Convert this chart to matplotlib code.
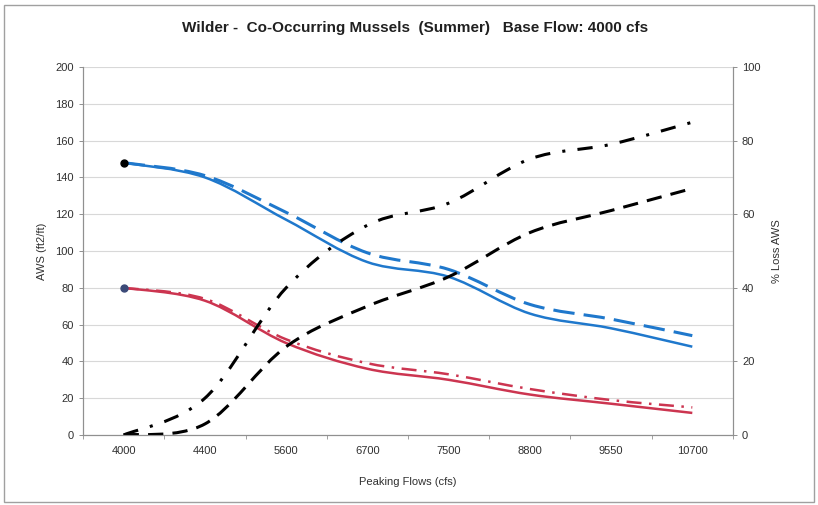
import numpy as np
import matplotlib.pyplot as plt
from matplotlib.path import Path
from matplotlib.patches import PathPatch, Rectangle

plt.rcParams['font.family'] = ['Liberation Sans Narrow', 'Liberation Sans', 'DejaVu Sans']

flows = ['4000', '4400', '5600', '6700', '7500', '8800', '9550', '10700']

# AWS (left axis)
aws_blue_solid = [148, 140, 117, 94, 86, 66, 58, 48]
aws_blue_dash = [148, 141, 121, 99, 90, 71, 63, 54]
aws_red_solid = [80, 73, 50, 36, 30, 22, 17, 12]
aws_red_dashdot = [80, 74, 52, 39, 33, 25, 19, 15]

# % loss AWS (right axis)
loss_dashdot = [0, 10, 40, 57, 63, 75, 79, 85]
loss_dash = [0, 3, 24, 35, 43, 55, 61, 67]


def smooth_line(ax, xs, ys, **kw):
    # excel-style smoothed line: catmull-rom turned into bezier segments
    pts = np.column_stack([xs, ys]).astype(float)
    n = len(pts)
    verts = [pts[0]]
    codes = [Path.MOVETO]
    for i in range(n - 1):
        p0 = pts[i - 1] if i > 0 else pts[i]
        p1 = pts[i]
        p2 = pts[i + 1]
        p3 = pts[i + 2] if i + 2 < n else pts[i + 1]
        c1 = p1 + (p2 - p0) / 6.0
        c2 = p2 - (p3 - p1) / 6.0
        verts += [c1, c2, p2]
        codes += [Path.CURVE4] * 3
    patch = PathPatch(Path(verts, codes), fill=False, **kw)
    ax.add_patch(patch)
    return patch


fig = plt.figure(figsize=(8.18, 5.05), dpi=100)
ax = fig.add_axes([0.1015, 0.1386, 0.7945, 0.7287])
ax2 = ax.twinx()

x = np.arange(len(flows))

blue = '#1f78cc'
red = '#cc3550'

smooth_line(ax, x, aws_blue_dash, edgecolor=blue, lw=2.2, linestyle=(0, (7, 3)))
smooth_line(ax, x, aws_blue_solid, edgecolor=blue, lw=1.8)
smooth_line(ax, x, aws_red_dashdot, edgecolor=red, lw=1.8, linestyle=(0, (6, 3, 1, 3)))
smooth_line(ax, x, aws_red_solid, edgecolor=red, lw=1.8)
ax.plot(x[:1], aws_blue_solid[:1], 'o', color='black', ms=5, zorder=5)
ax.plot(x[:1], aws_red_solid[:1], 'o', color='#3b4a78', ms=5, zorder=5)

smooth_line(ax2, x, loss_dashdot, edgecolor='black', lw=2.2, linestyle=(0, (5, 4, 1, 4)))
smooth_line(ax2, x, loss_dash, edgecolor='black', lw=2.2, linestyle=(0, (5, 3)))

ax.set_xlim(-0.5, len(flows) - 0.5)
ax.set_ylim(0, 200)
ax2.set_ylim(0, 100)
ax.set_yticks(np.arange(0, 201, 20))
ax2.set_yticks(np.arange(0, 101, 20))
ax.set_xticks(x)
ax.set_xticklabels(flows)
ax.set_xticks(np.arange(-0.5, len(flows), 1), minor=True)

ax.grid(axis='y', color='#d8d8d8', lw=0.8)
ax.set_axisbelow(True)

for a in (ax, ax2):
    for s in a.spines.values():
        s.set_color('#909090')
        s.set_linewidth(0.8)
    a.spines['top'].set_visible(False)
    a.tick_params(labelsize=8, colors='#303030', length=3, width=0.7)
    a.tick_params(axis='both', color='#909090')
ax.tick_params(axis='x', which='major', length=0, pad=8)
ax.tick_params(axis='x', which='minor', length=3, color='#909090')

ax.set_ylabel('AWS (ft2/ft)', fontsize=8, color='#303030', labelpad=6)
ax2.set_ylabel('% Loss AWS', fontsize=8, color='#303030', labelpad=8)
ax.set_xlabel('Peaking Flows (cfs)', fontsize=8, color='#303030', labelpad=15)

fig.text(0.508, 0.944, 'Wilder -  Co-Occurring Mussels  (Summer)   Base Flow: 4000 cfs',
         ha='center', va='center', fontsize=11, fontweight='bold', color='#202020')

fig.patches.append(Rectangle((0.005, 0.005), 0.99, 0.985, transform=fig.transFigure,
                             fill=False, edgecolor='#a0a0a0', lw=1))

fig.savefig('out.png', dpi=100)
